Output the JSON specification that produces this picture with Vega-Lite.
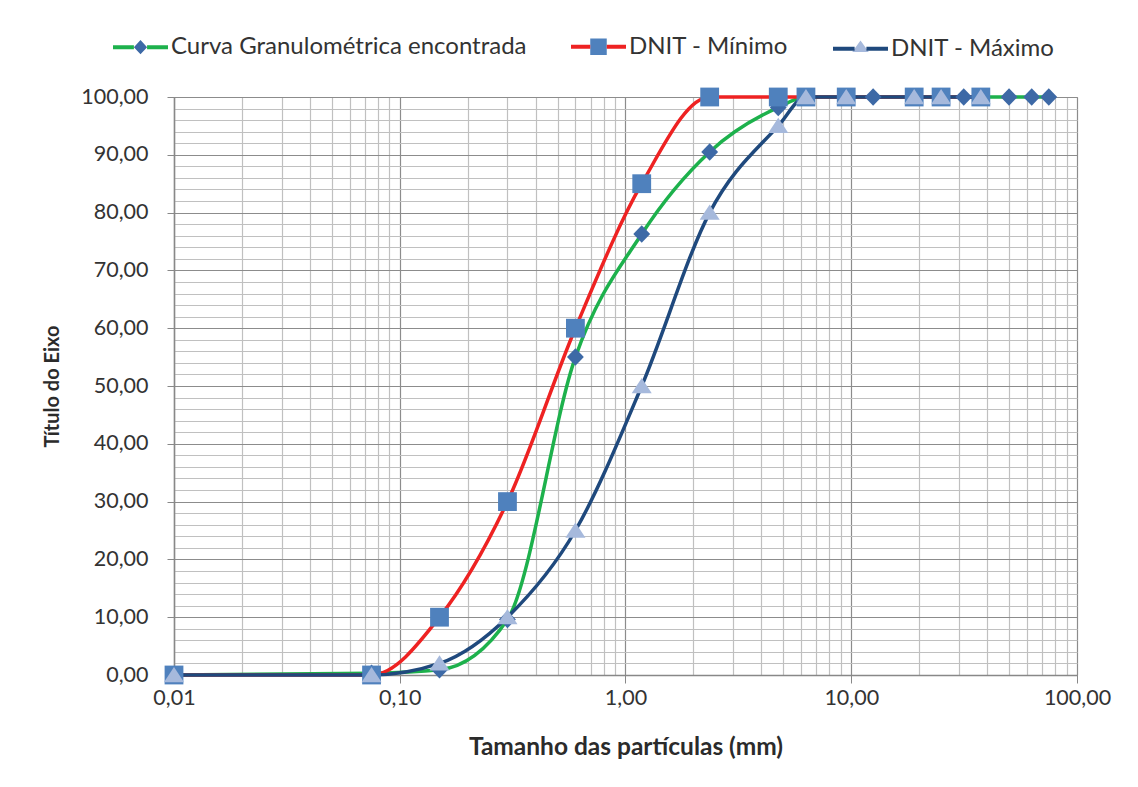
{
  "$schema": "https://vega.github.io/schema/vega-lite/v6.json",
  "autosize": "none",
  "width": 903,
  "height": 578,
  "padding": {"left": 174, "top": 97, "right": 61, "bottom": 112},
  "background": "white",
  "config": {
    "font": "Lato",
    "view": {"stroke": "#9a9a9a", "strokeWidth": 1},
    "axis": {
      "labelFont": "Lato",
      "labelFontSize": 21.5,
      "labelColor": "#333333",
      "titleFont": "Lato",
      "titleFontWeight": "bold",
      "titleColor": "#2b2b2b",
      "domainColor": "#888888",
      "domainWidth": 1.5,
      "tickColor": "#888888",
      "gridWidth": 1.2
    }
  },
  "data": {
    "values": [
      {"serie": "Curva Granulométrica encontrada", "d": 0.01, "p": 0},
      {"serie": "Curva Granulométrica encontrada", "d": 0.075, "p": 0.3},
      {"serie": "Curva Granulométrica encontrada", "d": 0.15, "p": 0.9},
      {"serie": "Curva Granulométrica encontrada", "d": 0.3, "p": 9.6},
      {"serie": "Curva Granulométrica encontrada", "d": 0.6, "p": 55},
      {"serie": "Curva Granulométrica encontrada", "d": 1.18, "p": 76.3},
      {"serie": "Curva Granulométrica encontrada", "d": 2.36, "p": 90.5},
      {"serie": "Curva Granulométrica encontrada", "d": 4.75, "p": 98.2},
      {"serie": "Curva Granulométrica encontrada", "d": 6.3, "p": 100},
      {"serie": "Curva Granulométrica encontrada", "d": 9.5, "p": 100},
      {"serie": "Curva Granulométrica encontrada", "d": 12.5, "p": 100},
      {"serie": "Curva Granulométrica encontrada", "d": 19, "p": 100},
      {"serie": "Curva Granulométrica encontrada", "d": 25, "p": 100},
      {"serie": "Curva Granulométrica encontrada", "d": 31.5, "p": 100},
      {"serie": "Curva Granulométrica encontrada", "d": 37.5, "p": 100},
      {"serie": "Curva Granulométrica encontrada", "d": 50, "p": 100},
      {"serie": "Curva Granulométrica encontrada", "d": 63, "p": 100},
      {"serie": "Curva Granulométrica encontrada", "d": 75, "p": 100},
      {"serie": "DNIT - Mínimo", "d": 0.01, "p": 0},
      {"serie": "DNIT - Mínimo", "d": 0.075, "p": 0},
      {"serie": "DNIT - Mínimo", "d": 0.15, "p": 10},
      {"serie": "DNIT - Mínimo", "d": 0.3, "p": 30},
      {"serie": "DNIT - Mínimo", "d": 0.6, "p": 60},
      {"serie": "DNIT - Mínimo", "d": 1.18, "p": 85},
      {"serie": "DNIT - Mínimo", "d": 2.36, "p": 100},
      {"serie": "DNIT - Mínimo", "d": 4.75, "p": 100},
      {"serie": "DNIT - Mínimo", "d": 6.3, "p": 100},
      {"serie": "DNIT - Mínimo", "d": 9.5, "p": 100},
      {"serie": "DNIT - Mínimo", "d": 19, "p": 100},
      {"serie": "DNIT - Mínimo", "d": 25, "p": 100},
      {"serie": "DNIT - Mínimo", "d": 37.5, "p": 100},
      {"serie": "DNIT - Máximo", "d": 0.01, "p": 0},
      {"serie": "DNIT - Máximo", "d": 0.075, "p": 0},
      {"serie": "DNIT - Máximo", "d": 0.15, "p": 2},
      {"serie": "DNIT - Máximo", "d": 0.3, "p": 10},
      {"serie": "DNIT - Máximo", "d": 0.6, "p": 25},
      {"serie": "DNIT - Máximo", "d": 1.18, "p": 50},
      {"serie": "DNIT - Máximo", "d": 2.36, "p": 80},
      {"serie": "DNIT - Máximo", "d": 4.75, "p": 95},
      {"serie": "DNIT - Máximo", "d": 6.3, "p": 100},
      {"serie": "DNIT - Máximo", "d": 9.5, "p": 100},
      {"serie": "DNIT - Máximo", "d": 19, "p": 100},
      {"serie": "DNIT - Máximo", "d": 25, "p": 100},
      {"serie": "DNIT - Máximo", "d": 37.5, "p": 100}
    ]
  },
  "encoding": {
    "x": {
      "field": "d",
      "type": "quantitative",
      "scale": {"type": "log", "domain": [0.01, 100], "nice": false},
      "axis": {
        "title": "Tamanho das partículas (mm)",
        "titleFontSize": 24.5,
        "titlePadding": 27,
        "values": [0.01, 0.02, 0.03, 0.04, 0.05, 0.06, 0.07, 0.08, 0.09,
                   0.1, 0.2, 0.3, 0.4, 0.5, 0.6, 0.7, 0.8, 0.9,
                   1, 2, 3, 4, 5, 6, 7, 8, 9,
                   10, 20, 30, 40, 50, 60, 70, 80, 90, 100],
        "labelExpr": "indexof([0.01, 0.1, 1, 10, 100], datum.value) >= 0 ? replace(format(datum.value, '.2f'), '.', ',') : ''",
        "labelOverlap": false,
        "labelFlush": false,
        "labelPadding": 4,
        "tickSize": 8,
        "tickOpacity": {"condition": {"test": "indexof([0.01, 0.1, 1, 10, 100], datum.value) >= 0", "value": 1}, "value": 0},
        "grid": true,
        "gridColor": {"condition": {"test": "indexof([0.01, 0.1, 1, 10, 100], datum.value) >= 0", "value": "#8c8c8c"}, "value": "#c0c0c0"}
      }
    },
    "y": {
      "field": "p",
      "type": "quantitative",
      "scale": {"domain": [0, 100], "nice": false},
      "axis": {
        "title": "Título do Eixo",
        "titleFontSize": 20,
        "titlePadding": 18,
        "values": [0, 2, 4, 6, 8, 10, 12, 14, 16, 18, 20, 22, 24, 26, 28, 30, 32, 34, 36, 38, 40, 42, 44, 46, 48, 50, 52, 54, 56, 58, 60, 62, 64, 66, 68, 70, 72, 74, 76, 78, 80, 82, 84, 86, 88, 90, 92, 94, 96, 98, 100],
        "labelExpr": "datum.value % 10 === 0 ? replace(format(datum.value, '.2f'), '.', ',') : ''",
        "labelOverlap": false,
        "labelFlush": false,
        "labelPadding": 19,
        "tickSize": 7,
        "tickOpacity": {"condition": {"test": "datum.value % 10 === 0", "value": 1}, "value": 0},
        "grid": true,
        "gridColor": {"condition": {"test": "datum.value % 10 === 0", "value": "#8c8c8c"}, "value": "#c0c0c0"}
      }
    }
  },
  "layer": [
    {
      "mark": {"type": "line", "interpolate": "monotone", "strokeWidth": 3.5},
      "encoding": {
        "color": {
          "field": "serie",
          "type": "nominal",
          "sort": ["Curva Granulométrica encontrada", "DNIT - Mínimo", "DNIT - Máximo"],
          "scale": {"range": ["#1db14c", "#ee2222", "#1f497d"]},
          "legend": {
            "orient": "none",
            "legendX": -63,
            "legendY": -80,
            "direction": "horizontal",
            "columns": 3,
            "columnPadding": 36,
            "title": null,
            "symbolSize": 3025,
            "symbolStrokeWidth": 4,
            "labelFont": "Lato",
            "labelFontSize": 24,
            "labelColor": "#333333",
            "labelOffset": 1,
            "labelLimit": 0,
            "encode": {
              "symbols": {
                "update": {
                  "shape": {"signal": "datum.index === 0 ? 'M-1,0H-0.24L0,-0.26L0.24,0L0,0.26L-0.24,0H0.24H1' : datum.index === 1 ? 'M-1,0H-0.3V-0.3H0.3V0.3H-0.3V0H0.3H1' : 'M-1,0H-0.2143L0,-0.3L0.3,0.12L-0.3,0.12L-0.2143,0H0.2143H1'"},
                  "fill": {"signal": "datum.index === 0 ? '#3d69a6' : datum.index === 1 ? '#4f81bd' : '#a6b9dc'"},
                  "strokeDash": {"signal": "datum.index === 0 ? [20.9, 52.1, 25, 300] : datum.index === 1 ? [19.25, 82.5, 25, 300] : [21.6, 56.7, 25, 300]"},
                  "opacity": {"value": 1}
                }
              }
            }
          }
        }
      }
    },
    {
      "mark": {"type": "point", "filled": true, "size": 4200, "opacity": 1, "strokeWidth": 0},
      "encoding": {
        "shape": {
          "field": "serie",
          "type": "nominal",
          "scale": {
            "domain": ["Curva Granulométrica encontrada", "DNIT - Mínimo", "DNIT - Máximo"],
            "range": [
              "M0,-0.27L0.26,0L0,0.27L-0.26,0Z",
              "M-0.29,-0.29H0.29V0.29H-0.29Z",
              "M0,-0.25L0.31,0.22L-0.31,0.22Z"
            ]
          },
          "legend": null
        },
        "fill": {
          "field": "serie",
          "type": "nominal",
          "scale": {
            "domain": ["Curva Granulométrica encontrada", "DNIT - Mínimo", "DNIT - Máximo"],
            "range": ["#3d69a6", "#4f81bd", "#a6b9dc"]
          },
          "legend": null
        }
      }
    }
  ]
}
